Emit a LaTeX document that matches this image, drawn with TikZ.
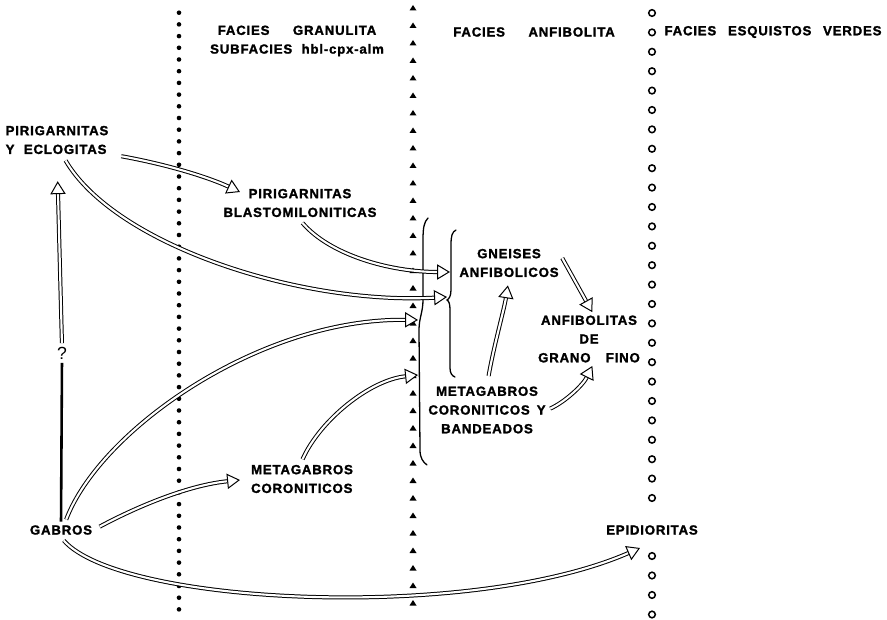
\documentclass[tikz,border=0pt]{standalone}
\usepackage{fontspec}
\setmainfont{Liberation Sans}[BoldFeatures={FakeBold=1.6,LetterSpace=6}]
\usetikzlibrary{arrows.meta}

\tikzset{
  lbl/.style={font=\fontsize{11.3}{16}\selectfont\bfseries, inner sep=1pt, align=center},
  hollow/.style={double, double distance=1.8pt, line width=0.85pt,
    -{Triangle[open, fill=white, length=11pt, width=13pt]}},
  brace/.style={line width=1.1pt, line cap=round},
}

\begin{document}
\begin{tikzpicture}[x=0.03cm, y=-0.03cm]
\useasboundingbox (0,0) rectangle (887,620);

% facies boundaries
\foreach \y in {12.7,24.4,...,620}
  \fill (179,\y) circle (2.3);
\foreach \y in {8,25.5,...,620}
  \fill (409.5,\y+2.5) -- (416.5,\y+2.5) -- (413,\y-3) -- cycle;
\foreach \y in {13,32.4,...,499,556,575.5,595,614.5}
  \draw[line width=1.3pt] (652,\y) circle (3.3);

% rock names
\node[lbl] (fgran) at (297,41) {FACIES\hspace{20pt}GRANULITA\\SUBFACIES\hspace{8pt}hbl-cpx-alm};
\node[lbl] (fanf) at (534,32) {FACIES\hspace{20pt}ANFIBOLITA};
\node[lbl] (fesq) at (773,32) {FACIES\hspace{10pt}ESQUISTOS\hspace{10pt}VERDES};
\node[lbl, align=left] (pirig) at (57,140) {PIRIGARNITAS\\Y\hspace{8pt}ECLOGITAS};
\node[lbl] (pblast) at (300,203) {PIRIGARNITAS\\BLASTOMILONITICAS};
\node[lbl] (gneis) at (509,263) {GNEISES\\ANFIBOLICOS};
\node[lbl] (anfib) at (589,339) {ANFIBOLITAS\\DE\\GRANO\hspace{13pt}FINO};
\node[lbl] (metab) at (487,410) {METAGABROS\\CORONITICOS\hspace{6pt}Y\\BANDEADOS};
\node[lbl, align=left] (metac) at (302,479) {METAGABROS\\CORONITICOS};
\node[lbl] (gabros) at (61,530) {GABROS};
\node[lbl] (epid) at (652,530) {EPIDIORITAS};
\node[font=\fontsize{15}{16}\selectfont, inner sep=1pt, fill=white] (qm) at (62,353) {?};

% braces
\draw[brace] (428,218) .. controls (424,222) and (423,228) .. (423,240) -- (423,300)
  .. controls (423,312) and (419,318) .. (419,330) -- (420,450)
  .. controls (420,458) and (423,462) .. (427,465);
\draw[brace] (456,230) .. controls (452,232) and (451,236) .. (451,245) -- (451,290)
  .. controls (451,296) and (449,299) .. (447,300) .. controls (449,301) and (450,304) .. (450,310)
  -- (450,368) .. controls (450,373) and (452,376) .. (455,377);

% arrow ends
\coordinate (pbin) at (240,192);
\coordinate (b1) at (450,272);
\coordinate (b2) at (447,297);
\coordinate (b3) at (418,320);
\coordinate (b4) at (418,375);
\coordinate (mcin) at (240,480);
\coordinate (epin) at (640,548);

% transformations
\draw[hollow, shorten <=10pt] (pirig.-15) .. controls (170,165) and (210,178) .. (pbin);
\draw[hollow, shorten <=5pt] (pirig.-70) .. controls (115,245) and (300,305) .. (b2);
\draw[hollow, shorten <=5pt] (pblast.-95) .. controls (330,255) and (390,272) .. (b1);
\draw[hollow, shorten <=4pt] (gabros.60) .. controls (100,430) and (260,318) .. (b3);
\draw[hollow, shorten <=4pt] (metac.95) .. controls (320,420) and (370,380) .. (b4);
\draw[hollow, shorten <=6pt] (gabros.east) .. controls (140,505) and (190,485) .. (mcin);
\draw[hollow, shorten <=5pt] (gabros.-100) .. controls (120,605) and (470,622) .. (epin);
\draw[line width=2.2pt, shorten <=2pt, shorten >=2pt] (gabros.north) -- (qm.south);
\draw[hollow, shorten <=2pt, shorten >=22pt] (qm.north) -- (pirig.south);
\draw[hollow, shorten <=8pt, shorten >=6pt] (metab.north) .. controls (494,345) and (504,310) .. (gneis.south);
\draw[hollow, shorten <=4pt, shorten >=2pt] (gneis.10) -- (anfib.80);
\draw[hollow, shorten <=3pt, shorten >=2pt] (metab.east) .. controls (565,402) and (583,385) .. (anfib.-80);
\end{tikzpicture}
\end{document}
